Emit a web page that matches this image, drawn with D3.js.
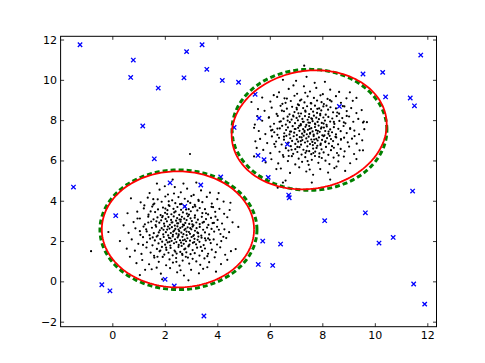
<!DOCTYPE html>
<html>
<head>
<meta charset="utf-8">
<script src="https://cdn.jsdelivr.net/npm/d3@7"></script>
<style>
  body { margin: 0; background: #fff; }
  svg text { font-family: "DejaVu Sans", sans-serif; font-size: 11px; fill: #000; }
</style>
</head>
<body>
<script>
// -- data --

// lower-left cluster (black dots)
var clusterA = [
[0.62,2.41],[0.88,2.63],[1.07,2.31],[1.19,2.72],[1.31,2.48],[1.42,2.29],[1.51,2.66],[1.58,2.39],[1.67,2.71],[1.73,2.27],[1.81,2.53],[1.88,2.64],[1.94,2.33],[1.99,2.74],[2.04,2.44],[2.09,2.57],[2.13,2.28],[2.18,2.62],[2.23,2.4],[2.27,2.69],[2.31,2.31],[2.36,2.52],[2.4,2.6],[2.44,2.37],[2.48,2.73],[2.52,2.26],[2.55,2.49],[2.59,2.65],[2.63,2.42],[2.67,2.71],[2.71,2.34],[2.75,2.55],[2.79,2.61],[2.83,2.29],[2.87,2.68],[2.92,2.45],[2.96,2.36],[3.01,2.58],[3.06,2.72],[3.11,2.3],[3.15,2.51],[3.21,2.64],[3.27,2.39],[3.33,2.7],[3.39,2.27],[3.46,2.56],[3.53,2.43],[3.61,2.67],[3.69,2.33],[3.78,2.6],[3.88,2.47],[3.99,2.71],[4.12,2.35],[4.27,2.58],[4.45,2.44],
[0.81,2.94],[1.05,3.12],[1.24,2.83],[1.37,3.21],[1.48,2.97],[1.57,3.08],[1.65,2.79],[1.72,3.17],[1.79,2.91],[1.86,3.03],[1.92,3.24],[1.97,2.86],[2.03,3.1],[2.08,2.98],[2.14,3.19],[2.19,2.81],[2.24,3.05],[2.29,2.93],[2.34,3.22],[2.38,2.77],[2.43,3.01],[2.47,3.14],[2.51,2.88],[2.56,3.07],[2.6,2.96],[2.65,3.2],[2.69,2.82],[2.74,3.11],[2.78,2.9],[2.83,3.04],[2.88,3.23],[2.93,2.85],[2.98,3.13],[3.03,2.99],[3.09,2.78],[3.14,3.16],[3.2,2.92],[3.26,3.06],[3.33,2.84],[3.41,3.2],[3.49,2.95],[3.57,3.09],[3.66,2.8],[3.76,3.15],[3.87,2.9],[4.01,3.05],[4.18,2.87],[4.38,3.18],
[0.74,2.08],[0.99,1.86],[1.17,2.19],[1.32,1.94],[1.44,2.12],[1.53,1.79],[1.62,2.03],[1.69,2.22],[1.76,1.88],[1.83,2.1],[1.9,1.97],[1.96,2.2],[2.01,1.82],[2.06,2.05],[2.11,1.93],[2.16,2.16],[2.21,1.78],[2.26,2.01],[2.3,2.23],[2.35,1.89],[2.39,2.09],[2.44,1.95],[2.49,2.18],[2.53,1.81],[2.58,2.04],[2.62,1.92],[2.67,2.21],[2.72,1.86],[2.76,2.07],[2.81,1.99],[2.86,2.14],[2.91,1.77],[2.96,2.02],[3.02,2.2],[3.07,1.91],[3.13,2.11],[3.19,1.84],[3.25,2.06],[3.32,1.96],[3.4,2.17],[3.48,1.8],[3.56,2.03],[3.65,2.13],[3.75,1.9],[3.86,2.08],[3.99,1.83],[4.15,2.0],[4.34,2.15],
[0.95,3.46],[1.2,3.62],[1.38,3.31],[1.52,3.71],[1.63,3.44],[1.74,3.57],[1.84,3.29],[1.93,3.66],[2.01,3.4],[2.1,3.53],[2.18,3.74],[2.25,3.33],[2.33,3.6],[2.41,3.47],[2.48,3.69],[2.55,3.3],[2.62,3.55],[2.69,3.42],[2.76,3.72],[2.84,3.36],[2.91,3.58],[2.99,3.48],[3.07,3.68],[3.15,3.27],[3.24,3.52],[3.33,3.64],[3.43,3.39],[3.53,3.58],[3.65,3.32],[3.78,3.7],[3.92,3.45],[4.08,3.6],[4.26,3.35],[4.47,3.54],[0.58,3.38],
[0.86,1.52],[1.11,1.36],[1.3,1.68],[1.46,1.43],[1.59,1.27],[1.7,1.61],[1.8,1.49],[1.89,1.71],[1.98,1.33],[2.06,1.56],[2.14,1.42],[2.22,1.66],[2.3,1.29],[2.37,1.53],[2.45,1.38],[2.52,1.7],[2.59,1.46],[2.67,1.31],[2.74,1.59],[2.82,1.44],[2.9,1.73],[2.98,1.35],[3.06,1.55],[3.14,1.4],[3.23,1.67],[3.32,1.28],[3.42,1.51],[3.53,1.63],[3.65,1.37],[3.79,1.57],[3.94,1.45],[4.11,1.69],[4.3,1.32],[4.52,1.5],[0.55,1.62],
[1.08,3.92],[1.35,4.15],[1.56,3.81],[1.73,4.07],[1.88,3.95],[2.02,4.21],[2.15,3.78],[2.28,4.02],[2.4,3.88],[2.52,4.18],[2.64,3.84],[2.76,4.1],[2.88,3.97],[3.01,4.23],[3.14,3.8],[3.28,4.05],[3.43,3.93],[3.6,4.19],[3.79,3.86],[4.0,4.08],[4.24,3.96],[1.22,3.77],
[1.14,1.06],[1.4,0.85],[1.6,1.18],[1.77,0.97],[1.92,1.21],[2.05,0.8],[2.18,1.09],[2.31,0.93],[2.43,1.16],[2.56,0.78],[2.68,1.03],[2.8,1.22],[2.93,0.88],[3.06,1.12],[3.2,0.99],[3.35,0.82],[3.51,1.14],[3.69,0.95],[3.9,1.19],[4.14,0.86],[0.92,0.9],[4.38,1.07],
[1.42,4.38],[1.8,4.55],[2.12,4.31],[2.38,4.68],[2.61,4.42],[2.85,4.6],[3.1,4.29],[3.38,4.51],[3.72,4.4],[2.0,4.72],
[1.5,0.6],[1.85,0.38],[2.2,0.66],[2.47,0.45],[2.73,0.29],[3.0,0.57],[3.3,0.4],[3.62,0.7],[2.6,0.55],[3.95,0.48],
[-0.81,1.5],[2.96,6.32],[2.3,5.05],[1.7,4.85],[3.2,4.9],[-0.15,2.45],[0.29,2.0],[0.67,1.22],[1.05,0.31],[1.69,0.68],[4.8,2.7],[4.7,1.6],[1.9,0.1],[2.9,0.05],[4.5,3.9],
[2.47,2.88],[2.21,2.14],[2.83,2.47],[3.05,2.83],[1.95,2.56],[2.64,1.76],[2.36,3.42],[3.28,2.22],[1.68,2.98],[2.92,3.31],[2.12,2.72],[2.78,1.62],[3.44,2.91],[1.54,2.18],[2.58,3.83],[3.12,1.95],[2.02,3.61],[2.69,2.04],[1.83,1.53],[3.57,3.38],[2.4,1.47],[2.97,2.64],[1.46,3.47],[3.71,2.06],[2.26,2.92],[2.53,2.33],[3.16,3.72],[1.77,2.43],[2.88,1.18],[2.15,3.97],[3.37,1.71],[1.29,2.58],[3.82,2.89],[2.61,3.06],[2.05,1.67],[2.73,2.79],[3.24,2.43],[1.6,3.86],[2.44,0.97],[3.93,3.21],[1.17,1.81],[2.32,2.47],[2.97,3.89],[3.53,2.14],[1.9,3.18],[2.66,1.37],[3.08,2.25],[2.18,1.96],[2.81,3.56],[1.37,2.92],[4.06,2.56],[2.52,2.57],[1.72,1.22],[3.29,3.99],[2.09,3.34],[2.94,1.83],[3.62,1.25],[1.05,2.49],[2.35,4.36],[3.84,3.68],[0.96,3.12],[4.23,2.21],[1.56,4.08],[3.46,0.62],[2.71,4.85],[0.43,2.78],[4.58,2.93],[1.25,0.57],[4.05,4.38],[0.71,4.12]
];

// upper-right cluster (black dots)
var clusterB = [
[5.58,7.46],[5.83,7.31],[6.02,7.68],[6.17,7.4],[6.29,7.27],[6.38,7.59],[6.47,7.72],[6.55,7.35],[6.62,7.51],[6.69,7.64],[6.75,7.29],[6.81,7.43],[6.87,7.7],[6.93,7.38],[6.98,7.56],[7.03,7.26],[7.08,7.62],[7.13,7.47],[7.18,7.74],[7.23,7.33],[7.27,7.55],[7.32,7.41],[7.36,7.67],[7.41,7.3],[7.45,7.52],[7.5,7.71],[7.54,7.37],[7.58,7.6],[7.63,7.44],[7.67,7.28],[7.72,7.66],[7.76,7.5],[7.81,7.34],[7.86,7.73],[7.9,7.42],[7.95,7.58],[8.0,7.25],[8.06,7.63],[8.11,7.46],[8.17,7.69],[8.23,7.32],[8.3,7.54],[8.37,7.4],[8.44,7.65],[8.52,7.29],[8.61,7.57],[8.7,7.45],[8.81,7.71],[8.93,7.36],[9.06,7.6],[9.22,7.48],[9.4,7.3],[5.4,7.62],[9.6,7.55],[6.1,7.52],
[5.71,7.97],[5.97,8.14],[6.16,7.82],[6.3,8.21],[6.42,7.94],[6.52,8.07],[6.61,7.78],[6.68,8.17],[6.76,7.9],[6.83,8.03],[6.89,8.23],[6.96,7.85],[7.02,8.11],[7.07,7.99],[7.13,8.19],[7.18,7.8],[7.24,8.06],[7.29,7.92],[7.34,8.2],[7.39,7.76],[7.44,8.02],[7.49,8.15],[7.53,7.87],[7.58,8.09],[7.63,7.95],[7.68,8.22],[7.72,7.83],[7.77,8.12],[7.82,7.91],[7.87,8.05],[7.92,8.24],[7.98,7.86],[8.04,8.13],[8.1,7.98],[8.16,7.77],[8.23,8.16],[8.3,7.93],[8.38,8.08],[8.46,7.81],[8.55,8.2],[8.65,7.96],[8.76,8.1],[8.88,7.84],[9.02,8.18],[9.18,7.92],[9.37,8.06],[5.52,8.2],[9.55,7.88],
[5.63,7.07],[5.9,6.86],[6.08,7.19],[6.24,6.94],[6.35,7.12],[6.45,6.79],[6.54,7.03],[6.63,7.22],[6.7,6.88],[6.78,7.1],[6.85,6.97],[6.91,7.2],[6.97,6.82],[7.03,7.05],[7.08,6.93],[7.14,7.16],[7.19,6.78],[7.24,7.01],[7.29,7.23],[7.34,6.89],[7.39,7.09],[7.44,6.95],[7.48,7.18],[7.53,6.81],[7.58,7.04],[7.62,6.92],[7.67,7.21],[7.72,6.86],[7.77,7.07],[7.82,6.99],[7.87,7.14],[7.93,6.77],[7.99,7.02],[8.05,7.2],[8.11,6.91],[8.18,7.11],[8.25,6.84],[8.33,7.06],[8.41,6.96],[8.5,7.17],[8.6,6.8],[8.71,7.03],[8.83,7.13],[8.97,6.9],[9.13,7.08],[9.31,6.83],[9.52,7.0],[5.45,6.95],
[5.8,8.46],[6.07,8.62],[6.26,8.31],[6.41,8.71],[6.54,8.44],[6.65,8.57],[6.75,8.29],[6.85,8.66],[6.94,8.4],[7.03,8.53],[7.11,8.74],[7.19,8.33],[7.27,8.6],[7.35,8.47],[7.42,8.69],[7.5,8.3],[7.57,8.55],[7.65,8.42],[7.72,8.72],[7.8,8.36],[7.88,8.58],[7.96,8.48],[8.04,8.68],[8.13,8.27],[8.22,8.52],[8.31,8.64],[8.41,8.39],[8.52,8.58],[8.64,8.32],[8.78,8.7],[8.93,8.45],[9.1,8.6],[9.3,8.35],[5.55,8.55],[9.5,8.5],
[5.75,6.52],[6.02,6.36],[6.21,6.68],[6.37,6.43],[6.5,6.27],[6.61,6.61],[6.71,6.49],[6.8,6.71],[6.89,6.33],[6.97,6.56],[7.05,6.42],[7.13,6.66],[7.21,6.29],[7.28,6.53],[7.36,6.38],[7.43,6.7],[7.5,6.46],[7.58,6.31],[7.65,6.59],[7.73,6.44],[7.81,6.73],[7.89,6.35],[7.97,6.55],[8.05,6.4],[8.14,6.67],[8.23,6.28],[8.33,6.51],[8.44,6.63],[8.56,6.37],[8.7,6.57],[8.85,6.45],[9.02,6.69],[9.21,6.32],[9.42,6.5],[5.5,6.62],
[6.02,8.92],[6.28,9.15],[6.48,8.81],[6.65,9.07],[6.8,8.95],[6.94,9.21],[7.07,8.78],[7.2,9.02],[7.32,8.88],[7.44,9.18],[7.56,8.84],[7.68,9.1],[7.8,8.97],[7.93,9.23],[8.06,8.8],[8.2,9.05],[8.35,8.93],[8.52,9.19],[8.71,8.86],[8.92,9.08],[9.16,8.96],[6.15,9.24],
[6.06,6.06],[6.32,5.85],[6.52,6.18],[6.69,5.97],[6.84,6.21],[6.97,5.8],[7.1,6.09],[7.23,5.93],[7.35,6.16],[7.48,5.78],[7.6,6.03],[7.72,6.22],[7.85,5.88],[7.98,6.12],[8.12,5.99],[8.27,5.82],[8.43,6.14],[8.61,5.95],[8.82,6.19],[9.06,5.86],[5.84,5.9],[9.3,6.07],
[6.35,9.38],[6.72,9.55],[7.04,9.31],[7.3,9.68],[7.53,9.42],[7.77,9.6],[8.02,9.29],[8.3,9.51],[8.64,9.4],[6.9,9.72],
[6.42,5.6],[6.77,5.38],[7.12,5.66],[7.39,5.45],[7.65,5.29],[7.92,5.57],[8.22,5.4],[8.54,5.7],[7.52,5.55],[8.87,5.48],
[7.4,10.15],[7.0,9.95],[8.1,9.9],[6.5,10.0],[5.3,8.9],[9.7,7.9],[9.55,6.5],[6.6,5.0],[7.6,4.9],[8.3,5.05],[5.4,6.2],[9.3,9.1],[7.31,10.7],[6.3,4.65],[6.5,4.9],
[7.47,7.88],[7.21,7.14],[7.83,7.47],[8.05,7.83],[6.95,7.56],[7.64,6.76],[7.36,8.42],[8.28,7.22],[6.68,7.98],[7.92,8.31],[7.12,7.72],[7.78,6.62],[8.44,7.91],[6.54,7.18],[7.58,8.83],[8.12,6.95],[7.02,8.61],[7.69,7.04],[6.83,6.53],[8.57,8.38],[7.4,6.47],[7.97,7.64],[6.46,8.47],[8.71,7.06],[7.26,7.92],[7.53,7.33],[8.16,8.72],[6.77,7.43],[7.88,6.18],[7.15,8.97],[8.37,6.71],[6.29,7.58],[8.82,7.89],[7.61,8.06],[7.05,6.67],[7.73,7.79],[8.24,7.43],[6.6,8.86],[7.44,5.97],[8.93,8.21],[6.17,6.81],[7.32,7.47],[7.97,8.89],[8.53,7.14],[6.9,8.18],[7.66,6.37],[8.08,7.25],[7.18,6.96],[7.81,8.56],[6.37,7.92],[9.06,7.56],[7.52,7.57],[6.72,6.22],[8.29,8.99],[7.09,8.34],[7.94,6.83],[8.62,6.25],[6.05,7.49],[7.35,9.36],[8.84,8.68],[5.96,8.12],[9.23,7.21],[6.56,9.08],[8.46,5.62],[7.71,9.85],[5.43,7.78],[9.58,7.93],[6.25,5.57],[9.05,9.38],[5.71,9.12]
];

// outliers (blue crosses)
var outliers = [
[-1.23,11.74],[0.80,10.98],[0.70,10.12],[1.16,7.71],[1.75,9.59],[1.60,6.08],[2.83,11.40],[2.73,10.10],[3.42,11.74],[3.60,10.52],[4.19,9.97],[4.81,9.88],[5.44,9.28],[5.59,8.10],[4.64,7.64],[8.65,8.68],[6.67,6.80],[5.55,6.25],[5.78,6.04],[9.55,10.29],[10.30,10.37],[11.75,11.23],[10.41,9.15],[11.35,9.10],[11.51,8.71],
[-1.48,4.68],[0.13,3.26],[-0.40,-0.17],[-0.09,-0.47],[2.20,4.89],[3.37,4.78],[2.76,3.72],[4.13,5.18],[2.01,0.10],[2.36,-0.23],[3.49,-1.72],[5.94,5.16],[6.72,4.28],[6.74,4.15],[11.44,4.48],[9.64,3.40],[8.09,3.01],[5.73,2.00],[6.41,1.85],[10.16,1.90],[10.70,2.18],[5.56,0.84],[6.11,0.79],[11.48,-0.13],[11.90,-1.13]
];

// contours: [centerX, centerY, semiAxisA, semiAxisB, angle in degrees]
var redContours   = [[2.5, 2.58, 2.9, 2.88, 0], [7.5, 7.52, 3.08, 2.82, 45]];
var greenContours = [[2.52, 2.56, 2.99, 2.97, 0], [7.51, 7.52, 2.95, 3.0, 0]];

var xTicks = [0, 2, 4, 6, 8, 10, 12];
var yTicks = [-2, 0, 2, 4, 6, 8, 10, 12];

// -- drawing --
var W = 485, H = 363;
var plotLeft = 60.6, plotRight = 436.5, plotTop = 36.3, plotBottom = 326.7;

var svg = d3.select('body').append('svg')
  .attr('width', W).attr('height', H);

var x = d3.scaleLinear().domain([-1.97, 12.35]).range([plotLeft, plotRight]);
var y = d3.scaleLinear().domain([-2.25, 12.16]).range([plotBottom, plotTop]);

svg.append('clipPath').attr('id', 'clip')
  .append('rect').attr('x', plotLeft).attr('y', plotTop)
  .attr('width', plotRight - plotLeft).attr('height', plotBottom - plotTop);

var plot = svg.append('g').attr('clip-path', 'url(#clip)');

function ellipsePath(c) {
  var th = c[4] * Math.PI / 180, pts = [];
  for (var i = 0; i <= 200; i++) {
    var t = i / 200 * 2 * Math.PI;
    var u = c[2] * Math.cos(t), v = c[3] * Math.sin(t);
    pts.push([c[0] + u * Math.cos(th) - v * Math.sin(th), c[1] + u * Math.sin(th) + v * Math.cos(th)]);
  }
  return d3.line().x(function(d){ return x(d[0]); }).y(function(d){ return y(d[1]); })(pts);
}

// inliers
plot.selectAll('circle.in')
  .data(clusterA.concat(clusterB))
  .enter().append('circle')
    .attr('class', 'in')
    .attr('cx', function(d){ return x(d[0]); })
    .attr('cy', function(d){ return y(d[1]); })
    .attr('r', 1.1)
    .style('fill', '#000');

// outliers as x markers
plot.selectAll('path.out')
  .data(outliers)
  .enter().append('path')
    .attr('class', 'out')
    .attr('d', function(d){
      var cx = x(d[0]), cy = y(d[1]), s = 2.2;
      return 'M' + (cx - s) + ',' + (cy - s) + 'L' + (cx + s) + ',' + (cy + s) +
             'M' + (cx - s) + ',' + (cy + s) + 'L' + (cx + s) + ',' + (cy - s);
    })
    .style('stroke', '#0000ff').style('stroke-width', 1.3).style('fill', 'none');

// contour lines
plot.selectAll('path.green')
  .data(greenContours)
  .enter().append('path')
    .attr('class', 'green')
    .attr('d', ellipsePath)
    .style('fill', 'none').style('stroke', '#008000')
    .style('stroke-width', 3).style('stroke-dasharray', '5,3');

plot.selectAll('path.red')
  .data(redContours)
  .enter().append('path')
    .attr('class', 'red')
    .attr('d', ellipsePath)
    .style('fill', 'none').style('stroke', '#ff0000').style('stroke-width', 1.8);

// axes, ticks pointing inward on all sides
svg.append('g').attr('transform', 'translate(0,' + plotBottom + ')')
  .call(d3.axisBottom(x).tickValues(xTicks).tickSize(-3.5).tickPadding(5).tickFormat(d3.format('d')));
svg.append('g').attr('transform', 'translate(0,' + plotTop + ')')
  .call(d3.axisTop(x).tickValues(xTicks).tickSize(-3.5).tickFormat(''));
svg.append('g').attr('transform', 'translate(' + plotLeft + ',0)')
  .call(d3.axisLeft(y).tickValues(yTicks).tickSize(-3.5).tickPadding(3.5).tickFormat(d3.format('d')));
svg.append('g').attr('transform', 'translate(' + plotRight + ',0)')
  .call(d3.axisRight(y).tickValues(yTicks).tickSize(-3.5).tickFormat(''));

svg.selectAll('.domain').remove();
svg.selectAll('.tick line').style('stroke', '#000').style('stroke-width', 0.8);
svg.selectAll('.tick text').style('font-family', '"DejaVu Sans", sans-serif').style('font-size', '11px');

svg.append('rect')
  .attr('x', plotLeft).attr('y', plotTop)
  .attr('width', plotRight - plotLeft).attr('height', plotBottom - plotTop)
  .style('fill', 'none').style('stroke', '#000').style('stroke-width', 1);
</script>
</body>
</html>
